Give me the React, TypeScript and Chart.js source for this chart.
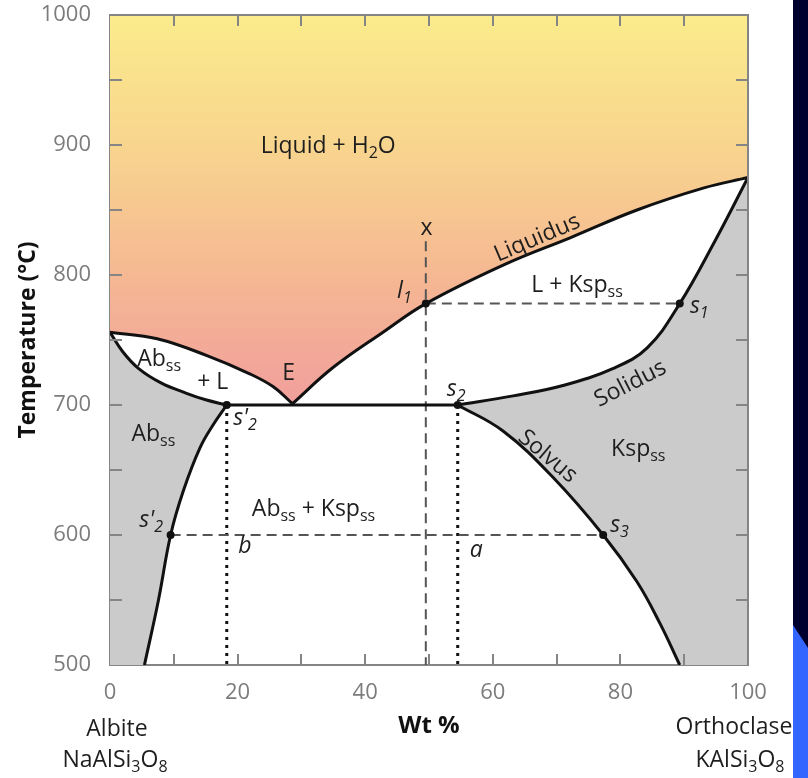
import React, { useEffect, useRef } from 'react';
import { Chart, registerables } from 'chart.js';

Chart.register(...registerables);

// ---------- axis ranges & ticks ----------
const X_MIN = 0;
const X_MAX = 100;
const Y_MIN = 500;
const Y_MAX = 1000;
const xMinorTicks = [10, 20, 30, 40, 50, 60, 70, 80, 90];
const yMinorTicks = [550, 600, 650, 700, 750, 800, 850, 900, 950];

// ---------- phase boundaries (Wt % Or, °C) ----------
const leftLiquidus = [[0, 756], [7.4, 751], [15.2, 738], [21.9, 724], [25.6, 714], [28.6, 701]];
const rightLiquidus = [[28.6, 701], [35, 729], [42.8, 756], [49.5, 778], [61.8, 808], [72.3, 829], [82.6, 850], [93.1, 867], [100, 875]];
const leftSolidus = [[0, 756], [2, 741], [4.5, 728], [8, 717], [12, 709], [15, 704], [18.3, 700]];
const leftSolvus = [[18.3, 700], [16.2, 685], [14.1, 667], [11.5, 634], [9.5, 600], [7.6, 550], [5.4, 500]];
const rightSolidus = [[54.5, 700], [63.2, 707], [71, 715], [78.8, 728], [84.2, 744], [89.3, 778], [94.8, 826], [100, 875]];
const rightSolvus = [[54.5, 700], [61.6, 680], [69.5, 644], [77.3, 600], [82.6, 564], [86.2, 532], [89.3, 500]];
const eutecticLine = [[18.3, 700], [54.5, 700]];

// ---------- construction lines ----------
const isoplethX = [[49.5, 826], [49.5, 500]];
const tieLine778 = [[49.5, 778], [89.3, 778]];
const tieLine600 = [[9.5, 600], [77.3, 600]];
const bulkB = [[18.3, 700], [18.3, 500]];
const bulkA = [[54.5, 700], [54.5, 500]];
const keyPoints = [[49.5, 778], [89.3, 778], [54.5, 700], [18.3, 700], [9.5, 600], [77.3, 600]];

// ---------- gradient of the liquid field ----------
const gradientTemps = [1000, 900, 800, 700];
const gradientColors = ['#FBEC8C', '#F8D58E', '#F5B893', '#F19F9C'];

// ---------- text labels ----------
const regionLabels = [
  { text: 'Liquid + H_{2}O', x: 34.2, y: 894 },
  { text: 'L + Ksp_{ss}', x: 73.2, y: 787 },
  { text: 'Ab_{ss}', x: 7.7, y: 730 },
  { text: '+ L', x: 16.1, y: 712 },
  { text: 'E', x: 28.0, y: 719 },
  { text: 'Ab_{ss}', x: 6.8, y: 672 },
  { text: 'Ab_{ss} + Ksp_{ss}', x: 31.9, y: 615 },
  { text: 'Ksp_{ss}', x: 82.8, y: 661 },
  { text: 'x', x: 49.6, y: 831 },
];
const curveLabels = [
  { text: 'Liquidus', x: 66.9, y: 829, angle: -23 },
  { text: 'Solidus', x: 81.5, y: 717, angle: -27 },
  { text: 'Solvus', x: 68.7, y: 661, angle: 40 },
];
const pointLabels = [
  { text: 'l_{1}', x: 45.0, y: 782 },
  { text: 's_{1}', x: 90.9, y: 771 },
  { text: 's_{2}', x: 52.8, y: 707 },
  { text: "s'_{2}", x: 19.3, y: 685 },
  { text: "s'_{2}", x: 4.6, y: 606 },
  { text: 's_{3}', x: 78.4, y: 602.5 },
  { text: 'a', x: 56.4, y: 583 },
  { text: 'b', x: 20.1, y: 586 },
];
const endMembers = [
  { name: 'Albite', formula: 'NaAlSi_{3}O_{8}', at: X_MIN },
  { name: 'Orthoclase', formula: 'KAlSi_{3}O_{8}', at: X_MAX },
];

// ---------- styles ----------
const FONT = '"Open Sans", "DejaVu Sans", sans-serif';
const INK = '#1e1e1e';
const FRAME = '#858585';
const TICK_TEXT = '#7c7c7c';
const GREY = '#CBCBCB';
const TENSION = 0.4;

const pts = (arr: number[][]) => arr.map(([x, y]) => ({ x, y }));
function chain(...curves: number[][][]) {
  const out: number[][] = [];
  for (const c of curves) {
    out.push(c[0], ...c, c[c.length - 1]);
  }
  return pts(out);
}
const last = (c: number[][]) => c[c.length - 1];

type Seg = { t: string; sub: boolean };
function parseRich(s: string): Seg[] {
  const parts = s.split(/(_\{[^}]*\})/).filter((p) => p.length);
  return parts.map((p) => (p.startsWith('_{') ? { t: p.slice(2, -1), sub: true } : { t: p, sub: false }));
}

function drawRich(
  ctx: CanvasRenderingContext2D,
  text: string,
  x: number,
  y: number,
  size: number,
  opt: { italic?: boolean; bold?: boolean; align?: string; color?: string; angle?: number; middle?: boolean } = {}
) {
  const { italic = false, bold = false, align = 'center', color = INK, angle = 0, middle = false } = opt;
  const segs = parseRich(text);
  const fontFor = (sub: boolean) =>
    `${italic ? 'italic ' : ''}${bold ? 'bold ' : ''}${sub ? Math.round(size * 0.68) : size}px ${FONT}`;
  let w = 0;
  const widths = segs.map((s) => {
    ctx.font = fontFor(s.sub);
    const m = ctx.measureText(s.t).width;
    w += m;
    return m;
  });
  ctx.save();
  ctx.translate(x, y);
  ctx.rotate((angle * Math.PI) / 180);
  let cx = align === 'center' ? -w / 2 : align === 'right' ? -w : 0;
  const by = middle ? size * 0.33 : 0;
  ctx.fillStyle = color;
  ctx.textAlign = 'left';
  ctx.textBaseline = 'alphabetic';
  segs.forEach((s, i) => {
    ctx.font = fontFor(s.sub);
    ctx.fillText(s.t, cx, by + (s.sub ? size * 0.22 : 0));
    cx += widths[i];
  });
  ctx.restore();
}

const decorPlugin = {
  id: 'decor',
  afterDatasetsDraw(chart: any) {
    const { ctx, chartArea: a, scales } = chart;
    const xs = scales.x;
    const ys = scales.y;
    ctx.save();
    ctx.strokeStyle = FRAME;
    ctx.lineWidth = 2;
    ctx.beginPath();
    ctx.moveTo(a.left, a.top);
    ctx.lineTo(a.right, a.top);
    ctx.lineTo(a.right, a.bottom);
    for (const v of xMinorTicks) {
      const px = Math.round(xs.getPixelForValue(v));
      ctx.moveTo(px, a.bottom);
      ctx.lineTo(px, a.bottom - 11);
      ctx.moveTo(px, a.top);
      ctx.lineTo(px, a.top + 11);
    }
    for (const v of yMinorTicks) {
      const py = Math.round(ys.getPixelForValue(v));
      ctx.moveTo(a.left, py);
      ctx.lineTo(a.left + 12, py);
      ctx.moveTo(a.right, py);
      ctx.lineTo(a.right - 12, py);
    }
    ctx.stroke();

    for (const l of regionLabels) {
      drawRich(ctx, l.text, xs.getPixelForValue(l.x), ys.getPixelForValue(l.y), 23);
    }
    for (const l of curveLabels) {
      drawRich(ctx, l.text, xs.getPixelForValue(l.x), ys.getPixelForValue(l.y), 23, { angle: l.angle, middle: true });
    }
    for (const l of pointLabels) {
      drawRich(ctx, l.text, xs.getPixelForValue(l.x), ys.getPixelForValue(l.y), 23, { italic: true, align: 'left' });
    }
    const b = a.bottom;
    const [albite, ortho] = endMembers;
    drawRich(ctx, albite.name, xs.getPixelForValue(albite.at) + 7, b + 71, 23);
    drawRich(ctx, albite.formula, xs.getPixelForValue(albite.at) + 5, b + 102, 23);
    drawRich(ctx, ortho.name, xs.getPixelForValue(ortho.at) - 14, b + 69, 23);
    drawRich(ctx, ortho.formula, xs.getPixelForValue(ortho.at) - 8, b + 102, 23);
    ctx.restore();
  },
};

const zeroPadding = (s: any) => {
  s.paddingTop = 0;
  s.paddingBottom = 0;
  s.paddingLeft = 0;
  s.paddingRight = 0;
};

export default function App() {
  const ref = useRef<HTMLCanvasElement | null>(null);

  useEffect(() => {
    if (!ref.current) return;
    const liquidFill = chain(
      [[X_MIN, Y_MAX], leftLiquidus[0]],
      leftLiquidus,
      rightLiquidus,
      [last(rightLiquidus), [X_MAX, Y_MAX]]
    );
    const leftGrey = chain(
      leftSolidus,
      leftSolvus,
      [last(leftSolvus), [X_MIN, Y_MIN]],
      [[X_MIN, Y_MIN], leftSolidus[0]]
    );
    const rightGrey = chain(
      rightSolidus,
      [last(rightSolidus), [X_MAX, Y_MIN]],
      [[X_MAX, Y_MIN], last(rightSolvus)],
      [...rightSolvus].reverse()
    );

    const fillDs = (data: any[], bg: any) => ({
      data,
      fill: 'shape',
      backgroundColor: bg,
      borderWidth: 0,
      borderColor: 'rgba(0,0,0,0)',
      pointRadius: 0,
      tension: TENSION,
      order: 5,
    });
    const curveDs = (c: number[][]) => ({
      data: pts(c),
      borderColor: '#111',
      borderWidth: 3,
      pointRadius: 0,
      fill: false,
      tension: TENSION,
      order: 2,
    });
    const dashDs = (c: number[][]) => ({
      data: pts(c),
      borderColor: '#555',
      borderWidth: 2,
      borderDash: [10, 6],
      pointRadius: 0,
      fill: false,
      tension: 0,
      order: 3,
    });
    const dotDs = (c: number[][]) => ({
      data: pts(c),
      borderColor: '#111',
      borderWidth: 3,
      borderDash: [3, 5],
      pointRadius: 0,
      fill: false,
      tension: 0,
      order: 3,
    });

    const gradient = (c: any) => {
      const chart = c.chart;
      if (!chart.chartArea) return 'rgba(0,0,0,0)';
      const ys = chart.scales.y;
      const g = chart.ctx.createLinearGradient(
        0,
        ys.getPixelForValue(gradientTemps[0]),
        0,
        ys.getPixelForValue(gradientTemps[gradientTemps.length - 1])
      );
      const span = gradientTemps[0] - gradientTemps[gradientTemps.length - 1];
      gradientTemps.forEach((t, i) => g.addColorStop((gradientTemps[0] - t) / span, gradientColors[i]));
      return g;
    };

    const chart = new Chart(ref.current, {
      type: 'line',
      data: {
        datasets: [
          {
            data: pts(keyPoints),
            showLine: false,
            pointRadius: 4,
            pointBackgroundColor: '#111',
            pointBorderWidth: 0,
            order: 0,
          } as any,
          curveDs(leftLiquidus),
          curveDs(rightLiquidus),
          curveDs(leftSolidus),
          curveDs(leftSolvus),
          curveDs(rightSolidus),
          curveDs(rightSolvus),
          curveDs(eutecticLine),
          dashDs(isoplethX),
          dashDs(tieLine778),
          dashDs(tieLine600),
          dotDs(bulkB),
          dotDs(bulkA),
          fillDs(liquidFill, gradient),
          fillDs(leftGrey, GREY),
          fillDs(rightGrey, GREY),
        ],
      },
      options: {
        animation: false,
        responsive: false,
        events: [],
        layout: { padding: { left: 0, top: 15, right: 60, bottom: 0 } },
        plugins: { legend: { display: false }, tooltip: { enabled: false } },
        scales: {
          x: {
            type: 'linear',
            min: X_MIN,
            max: X_MAX,
            z: 1,
            ticks: {
              stepSize: 20,
              color: TICK_TEXT,
              font: { family: FONT, size: 22 },
              padding: 15,
              maxRotation: 0,
              autoSkip: false,
              callback: (v: any) => String(v),
            },
            grid: { display: false, drawTicks: false },
            border: { display: true, color: FRAME, width: 2 },
            title: {
              display: true,
              text: 'Wt %',
              color: '#111',
              font: { family: FONT, size: 24, weight: 'bold' },
              padding: { top: 0, bottom: 37 },
            },
            afterFit: (s: any) => {
              s.height = 113;
              zeroPadding(s);
            },
          },
          y: {
            type: 'linear',
            min: Y_MIN,
            max: Y_MAX,
            z: 1,
            ticks: {
              stepSize: 100,
              color: TICK_TEXT,
              font: { family: FONT, size: 22 },
              padding: 19,
              autoSkip: false,
              callback: (v: any) => String(v),
            },
            grid: { display: false, drawTicks: false },
            border: { display: true, color: FRAME, width: 2 },
            title: {
              display: true,
              text: 'Temperature (°C)',
              color: '#111',
              font: { family: FONT, size: 23, weight: 'bold' },
              padding: { top: 15, bottom: 0 },
            },
            afterFit: (s: any) => {
              s.width = 110;
              zeroPadding(s);
            },
          },
        },
      },
      plugins: [decorPlugin],
    } as any);
    return () => chart.destroy();
  }, []);

  return (
    <div style={{ position: 'absolute', left: 0, top: 0, width: 808, height: 778, background: '#fff', overflow: 'hidden' }}>
      <div style={{ position: 'absolute', left: 793, top: 0, width: 15, height: 778, background: '#00002e' }} />
      <div
        style={{
          position: 'absolute',
          left: 793,
          top: 620,
          width: 15,
          height: 158,
          background: '#3366ff',
          clipPath: 'polygon(0 5px, 100% 28px, 100% 100%, 0 100%)',
        }}
      />
      <canvas ref={ref} width={808} height={778} style={{ position: 'absolute', left: 0, top: 0 }} />
    </div>
  );
}
